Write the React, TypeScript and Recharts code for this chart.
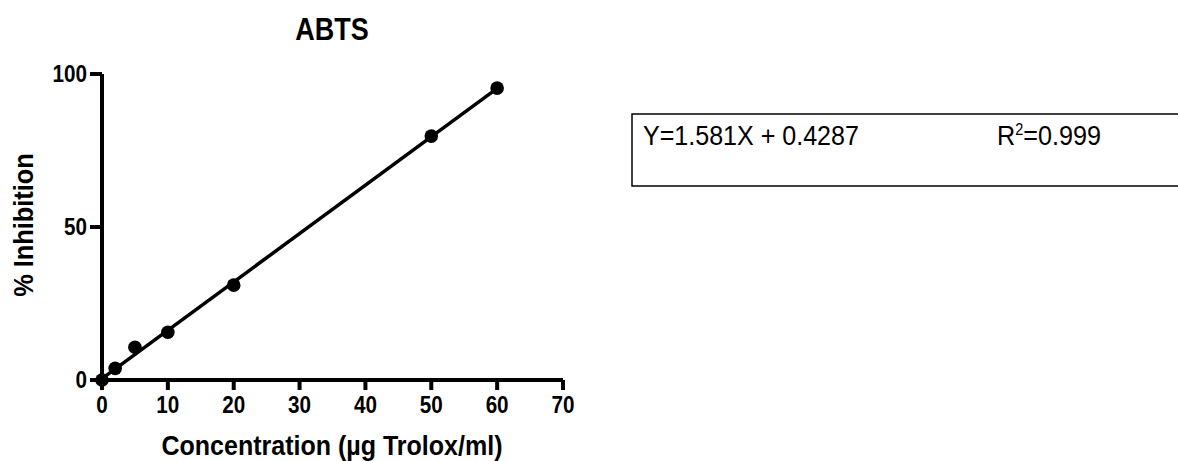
import React from 'react';
import { ComposedChart, XAxis, YAxis, Line, Scatter } from 'recharts';

const concentrations = [0, 2, 5, 10, 20, 50, 60];
const inhibition = [0, 3.8, 10.7, 15.6, 31.0, 79.7, 95.4];
const fitX = [0, 60];
const fitY = [0.43, 95.29];
const xTicks = [0, 10, 20, 30, 40, 50, 60, 70];
const yTicks = [0, 50, 100];
const title = 'ABTS';
const xTitle = 'Concentration (\u00b5g Trolox/ml)';
const yTitle = '% Inhibition';
const equation = 'Y=1.581X + 0.4287';

const points = concentrations.map((x, i) => ({ x, y: inhibition[i] }));
const fit = fitX.map((x, i) => ({ x, y: fitY[i] }));

const FONT = '"Liberation Sans", Arial, Helvetica, sans-serif';

const Dot = (p: any) => <circle cx={p.cx} cy={p.cy} r={6.8} fill="#000" />;

const squeeze = (x: number, y: number, s: number) =>
  `translate(${x},${y}) scale(${s},1) translate(${-x},${-y})`;

const XTick = (p: any) => (
  <text
    x={p.x}
    y={p.y}
    dy="0.71em"
    textAnchor="middle"
    fontSize={23.5}
    fontWeight="bold"
    fill="#000"
    fontFamily={FONT}
    transform={squeeze(p.x, p.y, 0.88)}
  >
    {p.payload.value}
  </text>
);

const YTick = (p: any) => (
  <text
    x={p.x}
    y={p.y}
    dy="0.355em"
    textAnchor="end"
    fontSize={23.5}
    fontWeight="bold"
    fill="#000"
    fontFamily={FONT}
    transform={squeeze(p.x, p.y, 0.88)}
  >
    {p.payload.value}
  </text>
);

export default function App() {
  return (
    <div style={{ position: 'absolute', left: 0, top: 0, width: 1178, height: 461, background: '#fff' }}>
      <ComposedChart
        width={1178}
        height={461}
        margin={{ top: 74, right: 615, bottom: 51, left: 42 }}
        style={{ fontFamily: FONT }}
      >
        <XAxis
          dataKey="x"
          type="number"
          domain={[0, 70]}
          ticks={xTicks}
          interval={0}
          height={30}
          axisLine={{ stroke: '#000', strokeWidth: 4 }}
          tickLine={{ stroke: '#000', strokeWidth: 4 }}
          tickSize={10}
          tickMargin={6}
          tick={XTick}
        />
        <YAxis
          dataKey="y"
          type="number"
          domain={[0, 100]}
          ticks={yTicks}
          interval={0}
          width={60}
          axisLine={{ stroke: '#000', strokeWidth: 4 }}
          tickLine={{ stroke: '#000', strokeWidth: 4 }}
          tickSize={12}
          tickMargin={3}
          tick={YTick}
        />
        <Line
          data={fit}
          dataKey="y"
          type="linear"
          stroke="#000"
          strokeWidth={3.5}
          dot={false}
          activeDot={false}
          isAnimationActive={false}
        />
        <Scatter data={points} fill="#000" shape={Dot} isAnimationActive={false} />
      </ComposedChart>
      <svg
        width={1178}
        height={461}
        style={{ position: 'absolute', left: 0, top: 0, pointerEvents: 'none', fontFamily: FONT }}
      >
        <text x={332} y={40} textAnchor="middle" fontSize={31} fontWeight="bold" fill="#000" transform={squeeze(332, 40, 0.87)}>
          {title}
        </text>
        <text x={332} y={455} textAnchor="middle" fontSize={27.5} fontWeight="bold" fill="#000" transform={squeeze(332, 455, 0.91)}>
          {xTitle}
        </text>
        <text
          x={0}
          y={0}
          transform="translate(33,225) rotate(-90) scale(0.94,1)"
          textAnchor="middle"
          fontSize={27}
          fontWeight="bold"
          fill="#000"
        >
          {yTitle}
        </text>
        <rect x={632} y={114} width={560} height={72} fill="none" stroke="#000" strokeWidth={1.5} />
        <text x={643} y={145} fontSize={28} fill="#000" transform={squeeze(643, 145, 0.895)}>
          {equation}
        </text>
        <text x={997} y={145} fontSize={28} fill="#000" transform={squeeze(997, 145, 0.9)}>
          R<tspan fontSize={16} dy={-10}>2</tspan>
          <tspan dy={10}>=0.999</tspan>
        </text>
      </svg>
    </div>
  );
}
